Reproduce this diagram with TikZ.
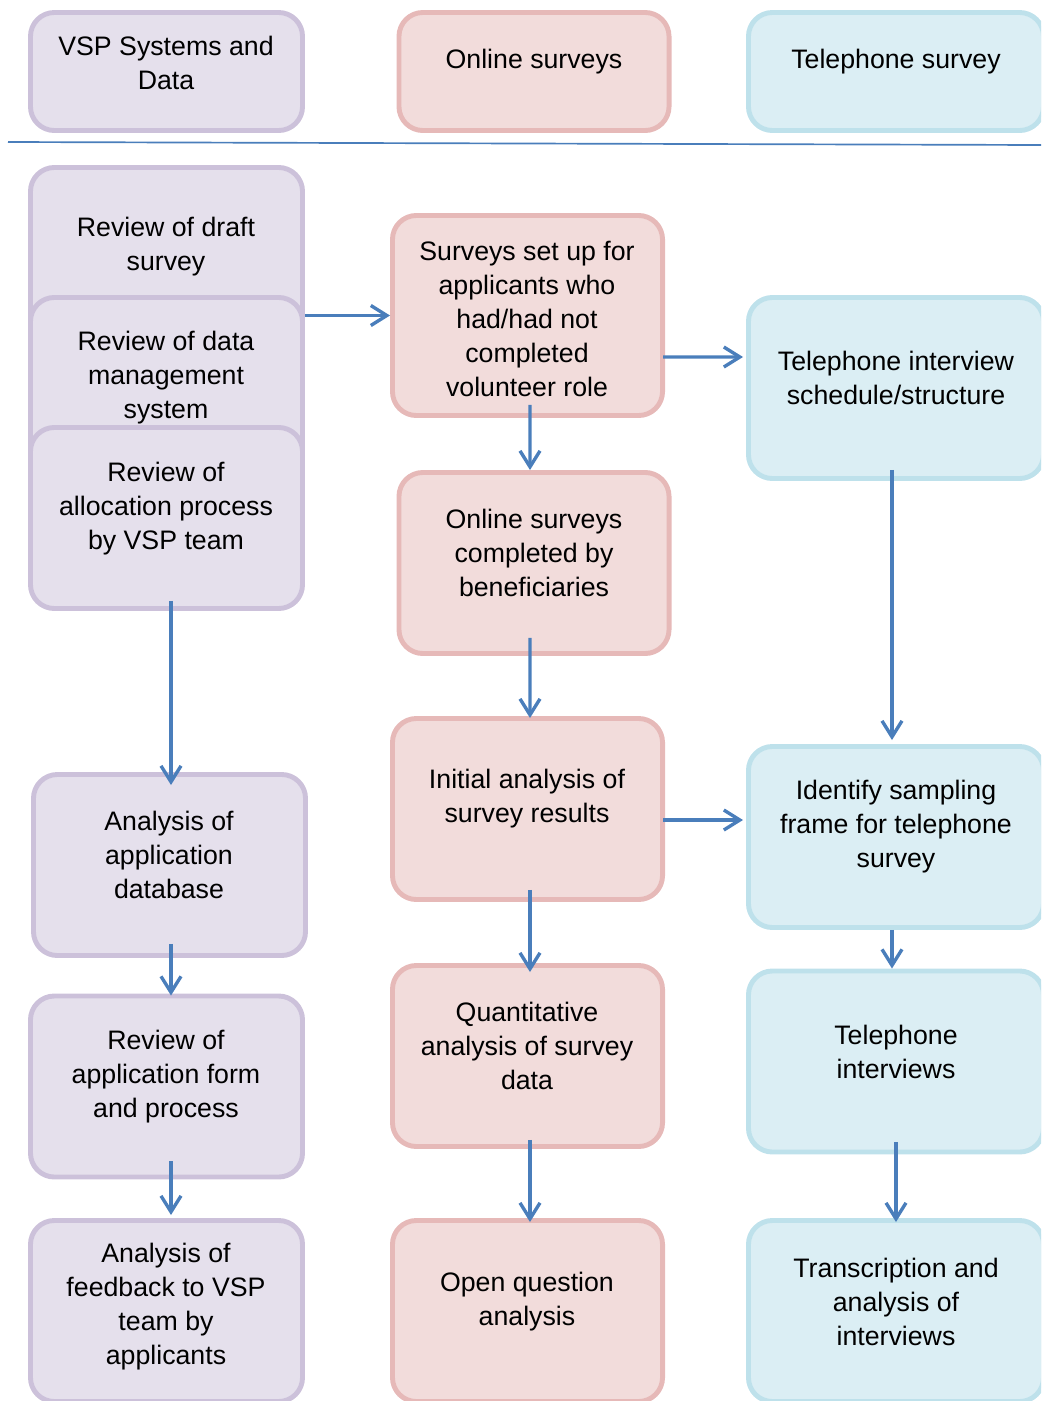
\documentclass[tikz,border=0pt]{standalone}
\usepackage{fontspec}
\setmainfont{Liberation Sans}
\definecolor{lilacfill}{RGB}{229, 224, 236}
\definecolor{lilacline}{RGB}{204, 193, 218}
\definecolor{rosefill}{RGB}{242, 220, 219}
\definecolor{roseline}{RGB}{230, 185, 184}
\definecolor{skyfill}{RGB}{219, 238, 244}
\definecolor{skyline}{RGB}{190, 225, 235}
\definecolor{flowblue}{RGB}{74, 126, 187}
\usetikzlibrary{arrows.meta, calc}

\begin{document}
\begin{tikzpicture}[x=0.025cm, y=-0.025cm,
  stage/.style={line width=3.5pt, rounded corners=17pt, minimum height=4.525cm},
  vspbox/.style={stage, draw=lilacline, fill=lilacfill, minimum width=6.8cm},
  webbox/.style={stage, draw=roseline, fill=rosefill, minimum width=6.75cm},
  telbox/.style={stage, draw=skyline, fill=skyfill, minimum width=7.375cm},
  txt/.style={font=\fontsize{19}{24.2}\selectfont, align=center, inner sep=0pt, yshift=-0.075cm},
  flow/.style={draw=flowblue, line width=2.4pt, -{Straight Barb[length=0.4cm, width=0.5cm]}}]
  \useasboundingbox (0,0) rectangle (1041,1401);
  \clip (0,0) rectangle (1041,1401);

  % Column headers
  \node[vspbox, minimum height=2.95cm] (hdvsp) at (166.5,71.5) {};
  \node[txt] (hdvsptxt) at (166,60) {VSP Systems and\\Data};
  \node[webbox, minimum height=2.95cm] (hdweb) at (534,71.5) {};
  \node[txt] (hdwebtxt) at (534,59) {Online surveys};
  \node[telbox, minimum height=2.95cm] (hdtel) at (896,71.5) {};
  \node[txt] (hdteltxt) at (896,59) {Telephone survey};

  % divider
  \draw[flowblue, line width=1.2pt] (8,142) -- (1041,145);

  % VSP systems column (stacked reviews overlap)
  \node[vspbox] (rdraft) at (166.5,258) {};
  \node[txt] (rdrafttxt) at (166,244) {Review of draft\\survey};
  \node[vspbox] (rdata) at (166.5,388) {};
  \node[txt] (rdatatxt) at (166,375) {Review of data\\management\\system};
  \node[vspbox] (ralloc) at (166.5,518) {};
  \node[txt] (ralloctxt) at (166,506) {Review of\\allocation process\\by VSP team};
  \node[vspbox] (appdb) at (169.5,865) {};
  \node[txt] (appdbtxt) at (169,852) {Analysis of\\application\\database};
  \node[vspbox] (appform) at (166.5,1086.5) {};
  \node[txt] (appformtxt) at (166,1074) {Review of\\application form\\and process};
  \node[vspbox] (feedback) at (166.5,1311) {};
  \node[txt] (feedbacktxt) at (166,1303.5) {Analysis of\\feedback to VSP\\team by\\applicants};

  % Online surveys column
  \node[webbox, minimum height=5cm] (setup) at (527.5,315.5) {};
  \node[txt] (setuptxt) at (527,316) {Surveys set up for\\applicants who\\had/had not\\completed\\volunteer role};
  \node[webbox] (online) at (534,563) {};
  \node[txt] (onlinetxt) at (534,549.5) {Online surveys\\completed by\\beneficiaries};
  \node[webbox] (initial) at (527.5,809) {};
  \node[txt] (initialtxt) at (527,796) {Initial analysis of\\survey results};
  \node[webbox] (quant) at (527.5,1056) {};
  \node[txt] (quanttxt) at (527,1043) {Quantitative\\analysis of survey\\data};
  \node[webbox] (openq) at (527.5,1311) {};
  \node[txt] (openqtxt) at (527,1298.5) {Open question\\analysis};

  % Telephone survey column
  \node[telbox] (telsched) at (896,388) {};
  \node[txt] (telschedtxt) at (896,374.5) {Telephone interview\\schedule/structure};
  \node[telbox] (sampling) at (896,837) {};
  \node[txt] (samplingtxt) at (896,824) {Identify sampling\\frame for telephone\\survey};
  \node[telbox] (telint) at (896,1061.5) {};
  \node[txt] (telinttxt) at (896,1048.5) {Telephone\\interviews};
  \node[telbox] (transcr) at (896,1311) {};
  \node[txt] (transcrtxt) at (896,1298.5) {Transcription and\\analysis of\\interviews};

  % arrows down the columns
  \draw[flow] ($(ralloc.south)+(4.5,-10)$) -- ($(appdb.north)+(1.5,13)$);
  \draw[flow] ($(appdb.south)+(1.5,-14)$) -- ($(appform.north)+(4.5,2)$);
  \draw[flow] ($(appform.south)+(4.5,-18)$) -- ($(feedback.north)+(4.5,-3)$);
  \draw[flow] ($(setup.south)+(2.5,-13)$) -- ($(online.north)+(-4,0)$);
  \draw[flow] ($(online.south)+(-4,-18)$) -- ($(initial.north)+(2.5,2)$);
  \draw[flow] ($(initial.south)+(2.5,-12)$) -- ($(quant.north)+(2.5,9)$);
  \draw[flow] ($(quant.south)+(2.5,-9)$) -- ($(openq.north)+(2.5,4)$);
  \draw[flow] ($(telsched.south)+(-4,-11)$) -- ($(sampling.north)+(-4,-4)$);
  \draw[flow] ($(sampling.south)+(-4,0)$) -- ($(telint.north)+(-4,0)$);
  \draw[flow] ($(telint.south)+(0,-12)$) -- ($(transcr.north)+(0,4)$);

  % arrows across
  \draw[flow] (rdata.east |- setup.west) -- (setup.west);
  \draw[flow] ($(setup.east)+(-2,41.5)$) -- ($(telsched.west)+(-3,-31)$);
  \draw[flow] ($(initial.east)+(-2,11)$) -- ($(sampling.west)+(-3,-17)$);
\end{tikzpicture}
\end{document}
